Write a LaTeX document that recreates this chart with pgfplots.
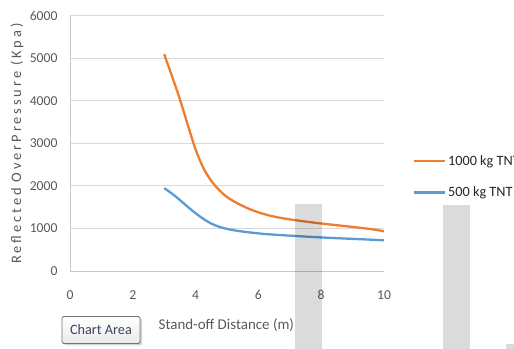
\documentclass[border=0pt]{standalone}
\usepackage{fontspec}
\setmainfont{Carlito}
\usepackage{pgfplots}
\pgfplotsset{compat=1.18}
\usetikzlibrary{shadows}

\definecolor{xlorange}{HTML}{ED7D31}
\definecolor{xlblue}{HTML}{5B9BD5}
\definecolor{xlgrid}{HTML}{D9D9D9}
\definecolor{xltext}{HTML}{595959}
\definecolor{tagtext}{HTML}{3A4560}

\begin{document}
\begin{tikzpicture}
\useasboundingbox (0,0) rectangle (514bp,349bp);
\begin{axis}[
  at={(70bp,78bp)}, anchor=south west,
  scale only axis, width=314bp, height=255bp,
  xmin=0, xmax=10, ymin=0, ymax=6000,
  xtick={0,2,...,10}, ytick={0,1000,...,6000},
  axis x line=bottom, axis y line=left,
  axis line style={xlgrid!80!gray, line width=0.8bp, -},
  major tick length=0pt,
  ymajorgrids, grid style={xlgrid, line width=1bp},
  scaled y ticks=false,
  /pgf/number format/assume math mode=true,
  /pgf/number format/1000 sep={},
  tick label style={font=\fontsize{13.7}{15}\selectfont, text=xltext},
  xticklabel style={yshift=-16bp},
  yticklabel style={xshift=-9bp},
  xlabel={Stand-off Distance (m)},
  ylabel={\addfontfeature{LetterSpace=20}Reflected OverPressure (Kpa)},
  label style={text=xltext},
  every axis x label/.append style={at={(axis description cs:0.498,-0.212)}, anchor=center,
    font=\fontsize{15}{16}\selectfont},
  every axis y label/.append style={at={(axis description cs:-0.169,0.5)}, anchor=center,
    font=\fontsize{14.5}{16}\selectfont},
  legend style={draw=none, fill=none, at={(axis description cs:1.096,0.468)}, anchor=north west,
    xshift=-4bp, font=\fontsize{14.3}{15}\selectfont, text=black!85, row sep=17bp,
    nodes={inner sep=1.5bp}},
  legend cell align=left,
  legend image code/.code={\draw[#1] (0bp,0bp) -- (31bp,0bp);},
  clip=false,
]
\addplot[xlorange, line width=2.3bp, smooth] coordinates {
  (3,5100) (3.25,4580) (3.5,4040) (3.75,3440) (4,2860) (4.25,2420) (4.5,2120)
  (4.75,1905) (5,1740) (5.25,1625) (5.5,1530) (5.75,1448) (6,1380) (6.25,1325)
  (6.5,1280) (6.75,1244) (7,1214) (7.25,1188) (7.5,1163) (7.75,1140) (8,1118)
  (8.25,1097) (8.5,1077) (8.75,1057) (9,1037) (9.25,1016) (9.5,994) (9.75,968) (10,935)
};
\addlegendentry{1000 kg TNT}
\addplot[xlblue, line width=2.3bp, smooth] coordinates {
  (3,1950) (3.25,1820) (3.5,1670) (3.75,1510) (4,1360) (4.25,1225) (4.5,1115)
  (4.75,1040) (5,990) (5.25,955) (5.5,928) (5.75,905) (6,885) (6.25,868)
  (6.5,855) (6.75,843) (7,832) (7.25,821) (7.5,810) (7.75,800) (8,790)
  (8.25,781) (8.5,772) (8.75,764) (9,756) (9.25,748) (9.5,740) (9.75,731) (10,722)
};
\addlegendentry{500 kg TNT}
\end{axis}
% translucent grey bands over the plot
\fill[black, fill opacity=0.14] (295bp,0) rectangle (322bp,145bp);
\fill[black, fill opacity=0.14] (443bp,0) rectangle (470bp,144bp);
\fill[black, fill opacity=0.14] (506bp,0) rectangle (514bp,5bp);
% "Chart Area" hover tag
\node[draw=black!55, line width=0.8bp, rounded corners=1.5bp,
  top color=white, bottom color=blue!4!black!8,
  drop shadow={shadow xshift=2bp, shadow yshift=-2bp, opacity=0.35},
  minimum width=78bp, minimum height=27bp, inner sep=0pt,
  font=\fontsize{14.3}{15}\selectfont, text=tagtext]
  at (101bp,19bp) {Chart Area};
\end{tikzpicture}
\end{document}
